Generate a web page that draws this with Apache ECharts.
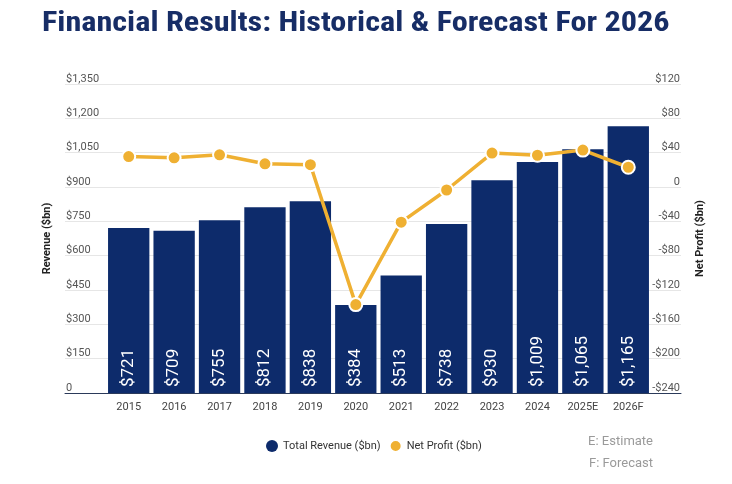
<!DOCTYPE html>
<html>
<head>
<meta charset="utf-8">
<title>Financial Results</title>
<script src="https://cdn.jsdelivr.net/npm/echarts@6/dist/echarts.min.js"></script>
<style>
  html, body { margin: 0; padding: 0; background: #fff; }
  #chart { width: 732px; height: 484px; }
</style>
</head>
<body>
<div id="chart"></div>
<script>
// years on the x axis
const years = ['2015', '2016', '2017', '2018', '2019', '2020', '2021', '2022', '2023', '2024', '2025E', '2026F'];
// total revenue, $bn
const revenue = [721, 709, 755, 812, 838, 384, 513, 738, 930, 1009, 1065, 1165];
// net profit, $bn
const netProfit = [35.5, 34, 37.5, 27, 26, -137, -41, -3.5, 39.5, 37, 43, 23];

const NAVY = '#0d2b6b';
const GOLD = '#efb032';

function money(v) {
    if (v === 0) { return '0'; }
    return (v < 0 ? '-$' : '$') + Math.abs(v).toLocaleString('en-US');
}

let chart = echarts.init(document.getElementById('chart'));

let tickLabel = {
    inside: true,
    margin: 1,
    verticalAlign: 'bottom',
    lineHeight: 10,
    fontFamily: 'Roboto',
    fontSize: 11,
    color: '#555',
    formatter: money
};

let option = {
    backgroundColor: '#fff',
    // the title font is condensed, so stretch a narrow face a little
    graphic: [{
        type: 'text',
        x: 42,
        y: 10,
        scaleX: 1.15,
        style: {
            text: 'Financial Results: Historical & Forecast For 2026',
            font: 'bold 28px "Liberation Sans Narrow", "Roboto Condensed", sans-serif',
            fill: '#172d66'
        }
    }],
    title: [{
        text: 'E: Estimate',
        right: 74,
        top: 430,
        textStyle: { fontFamily: 'Roboto', fontWeight: 'normal', fontSize: 13, color: '#9a9a9a' }
    }, {
        text: 'F: Forecast',
        right: 74,
        top: 452,
        textStyle: { fontFamily: 'Roboto', fontWeight: 'normal', fontSize: 13, color: '#9a9a9a' }
    }],
    legend: {
        data: ['Total Revenue ($bn)', 'Net Profit ($bn)'],
        icon: 'circle',
        itemWidth: 12,
        itemHeight: 12,
        itemGap: 8,
        left: 261,
        top: 434,
        textStyle: { fontFamily: 'Roboto', fontSize: 11, color: '#333' }
    },
    grid: [
        // wide grid: only carries the gridlines and tick labels
        { left: 65, right: 51, top: 84, bottom: 91 },
        // narrow grid: the bars and the line
        { left: 106, right: 81, top: 84, bottom: 91 }
    ],
    xAxis: [{
        type: 'value',
        gridIndex: 0,
        min: 0,
        max: 1,
        axisLine: { show: true, onZero: false, lineStyle: { color: '#2b3a5a', width: 1 } },
        axisTick: { show: false },
        axisLabel: { show: false },
        splitLine: { show: false }
    }, {
        type: 'category',
        gridIndex: 1,
        data: years,
        axisLine: { show: false },
        axisTick: { show: false },
        axisLabel: { margin: 9, fontFamily: 'Roboto', fontSize: 11, color: '#444' }
    }],
    yAxis: [{
        type: 'value',
        gridIndex: 0,
        position: 'left',
        min: 0,
        max: 1350,
        interval: 150,
        name: 'Revenue ($bn)',
        nameLocation: 'middle',
        nameGap: 12,
        nameRotate: 90,
        nameTextStyle: { fontFamily: 'Roboto', fontWeight: 'bold', fontSize: 11, color: '#222' },
        axisLine: { show: false },
        axisTick: { show: false },
        axisLabel: tickLabel,
        splitLine: { lineStyle: { color: '#e6e6e6', width: 1 } }
    }, {
        type: 'value',
        gridIndex: 0,
        position: 'right',
        min: -240,
        max: 120,
        interval: 40,
        name: 'Net Profit ($bn)',
        nameLocation: 'middle',
        nameGap: 14,
        nameRotate: 90,
        nameTextStyle: { fontFamily: 'Roboto', fontWeight: 'bold', fontSize: 11, color: '#222' },
        axisLine: { show: false },
        axisTick: { show: false },
        axisLabel: tickLabel,
        splitLine: { show: false }
    }, {
        type: 'value',
        gridIndex: 1,
        min: 0,
        max: 1350,
        interval: 150,
        show: false
    }, {
        type: 'value',
        gridIndex: 1,
        min: -240,
        max: 120,
        interval: 40,
        show: false
    }],
    series: [{
        name: 'Total Revenue ($bn)',
        type: 'bar',
        xAxisIndex: 1,
        yAxisIndex: 2,
        data: revenue,
        barCategoryGap: '9%',
        itemStyle: { color: NAVY },
        label: {
            show: true,
            position: 'insideBottom',
            rotate: 90,
            align: 'left',
            verticalAlign: 'middle',
            distance: 6,
            fontFamily: 'Roboto',
            fontSize: 17,
            color: '#fff',
            formatter: p => money(p.value)
        }
    }, {
        name: 'Net Profit ($bn)',
        type: 'line',
        xAxisIndex: 1,
        yAxisIndex: 3,
        data: netProfit,
        z: 5,
        symbol: 'circle',
        symbolSize: 13,
        lineStyle: { color: GOLD, width: 3.5 },
        itemStyle: { color: GOLD, borderColor: '#fff', borderWidth: 2 }
    }]
};

chart.setOption(option);
</script>
</body>
</html>
